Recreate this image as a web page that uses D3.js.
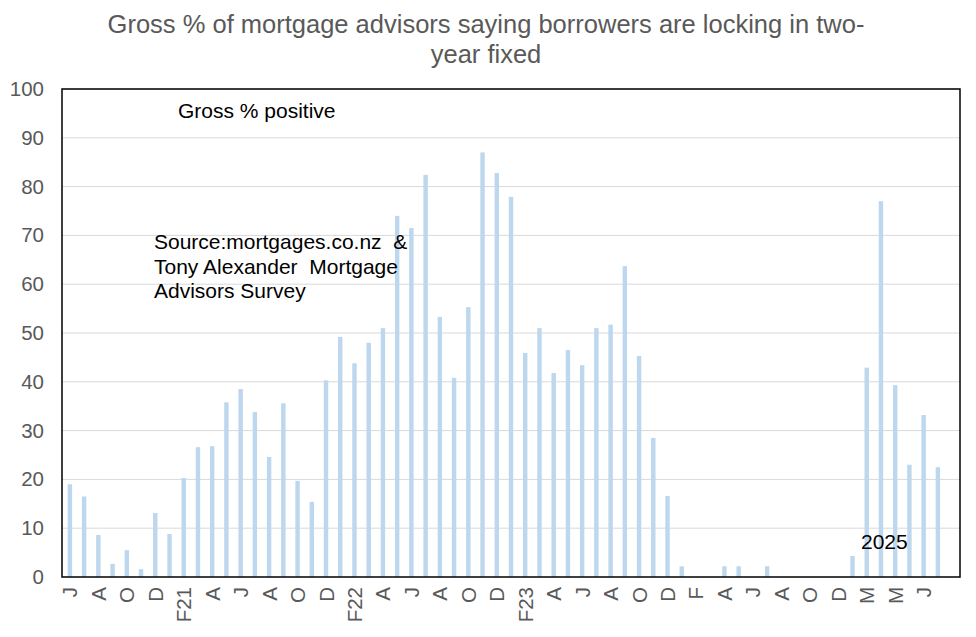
<!DOCTYPE html>
<html>
<head>
<meta charset="utf-8">
<script src="https://cdn.jsdelivr.net/npm/d3@7"></script>
<style>
    body { margin: 0; background: #fff; }
    text { font-family: "Liberation Sans", Arial, sans-serif; }
</style>
</head>
<body>
<div id="chart"></div>
<script>
// month labels, one per category (only every second one is shown)
const months = [
    'J', 'J', 'A', 'S', 'O', 'N', 'D', 'J', 'F21', 'M', 'A', 'M',
    'J', 'J', 'A', 'S', 'O', 'N', 'D', 'J', 'F22', 'M', 'A', 'M',
    'J', 'J', 'A', 'S', 'O', 'N', 'D', 'J', 'F23', 'M', 'A', 'M',
    'J', 'J', 'A', 'S', 'O', 'N', 'D', 'J', 'F', 'M', 'A', 'M',
    'J', 'J', 'A', 'S', 'O', 'N', 'D', 'F', 'M', 'A', 'M', 'J',
    'J', 'A', ''
];

// gross % positive (null = no reading)
const grossPositive = [
    19, 16.5, 8.6, 2.7, 5.5, 1.6, 13.1, 8.8, 20.3, 26.6, 26.8, 35.8,
    38.5, 33.8, 24.6, 35.6, 19.7, 15.4, 40.3, 49.2, 43.8, 48, 51, 74,
    71.5, 82.4, 53.3, 40.8, 55.3, 87, 82.8, 77.9, 45.9, 51, 41.8, 46.5,
    43.4, 51, 51.7, 63.7, 45.3, 28.5, 16.6, 2.2, null, null, 2.2, 2.2,
    null, 2.2, null, null, null, null, null, 4.3, 42.9, 77, 39.3, 23,
    33.2, 22.5, null
];

const yTicks = d3.range(0, 101, 10);

const width = 976, height = 637;
const margin = { top: 89, right: 16, bottom: 60, left: 62 };
const innerW = width - margin.left - margin.right;
const innerH = height - margin.top - margin.bottom;

const svg = d3.select('#chart')
    .append('svg')
    .attr('width', width)
    .attr('height', height);

const g = svg.append('g')
    .attr('transform', `translate(${margin.left},${margin.top})`);

const xScale = d3.scaleBand()
    .domain(d3.range(months.length))
    .range([0, innerW])
    .paddingInner(0.69)
    .paddingOuter(0.4);

const yScale = d3.scaleLinear().domain([0, 100]).range([innerH, 0]);

// gridlines
g.append('g')
    .selectAll('line')
    .data(yTicks.filter(d => d > 0))
    .enter()
    .append('line')
    .attr('x1', 0)
    .attr('x2', innerW)
    .attr('y1', d => yScale(d))
    .attr('y2', d => yScale(d))
    .attr('stroke', '#d9d9d9')
    .attr('stroke-width', 1);

// bars
const bars = months.map((m, i) => ({ i, v: grossPositive[i] })).filter(d => d.v !== null);

g.selectAll('.bar')
    .data(bars)
    .enter()
    .append('rect')
    .attr('class', 'bar')
    .attr('x', d => xScale(d.i))
    .attr('y', d => yScale(d.v))
    .attr('width', xScale.bandwidth())
    .attr('height', d => innerH - yScale(d.v))
    .attr('fill', '#bdd7ee');

// plot border
g.append('rect')
    .attr('width', innerW)
    .attr('height', innerH)
    .attr('fill', 'none')
    .attr('stroke', '#000')
    .attr('stroke-width', 1.5);

// y axis
const yAxis = g.append('g')
    .call(d3.axisLeft(yScale).tickValues(yTicks).tickSize(0).tickPadding(18));
yAxis.select('.domain').remove();
yAxis.selectAll('text')
    .attr('fill', '#595959')
    .style('font-size', '20.5px');

// x axis
const xAxis = g.append('g')
    .attr('transform', `translate(0,${innerH})`)
    .call(d3.axisBottom(xScale)
        .tickValues(d3.range(0, months.length, 2))
        .tickFormat(i => months[i])
        .tickSize(0));
xAxis.select('.domain').remove();
xAxis.selectAll('text')
    .attr('fill', '#595959')
    .style('font-size', '20.5px')
    .attr('text-anchor', 'end')
    .attr('dy', null)
    .attr('y', 0)
    .attr('transform', 'translate(7.5,10) rotate(-90)');

// title
svg.append('text')
    .attr('x', 486)
    .attr('y', 33)
    .attr('text-anchor', 'middle')
    .attr('fill', '#595959')
    .style('font-size', '25.5px')
    .text('Gross % of mortgage advisors saying borrowers are locking in two-');
svg.append('text')
    .attr('x', 486)
    .attr('y', 63)
    .attr('text-anchor', 'middle')
    .attr('fill', '#595959')
    .style('font-size', '25.5px')
    .text('year fixed');

// annotations
const notes = [
    { text: 'Gross % positive', x: 178, y: 118 },
    { text: 'Source:mortgages.co.nz  &', x: 154, y: 249 },
    { text: 'Tony Alexander  Mortgage', x: 154, y: 274 },
    { text: 'Advisors Survey', x: 154, y: 298 },
    { text: '2025', x: 861, y: 549 }
];
svg.selectAll('.note')
    .data(notes)
    .enter()
    .append('text')
    .attr('class', 'note')
    .attr('x', d => d.x)
    .attr('y', d => d.y)
    .attr('fill', '#000')
    .style('font-size', '21px')
    .style('white-space', 'pre')
    .text(d => d.text);
</script>
</body>
</html>
